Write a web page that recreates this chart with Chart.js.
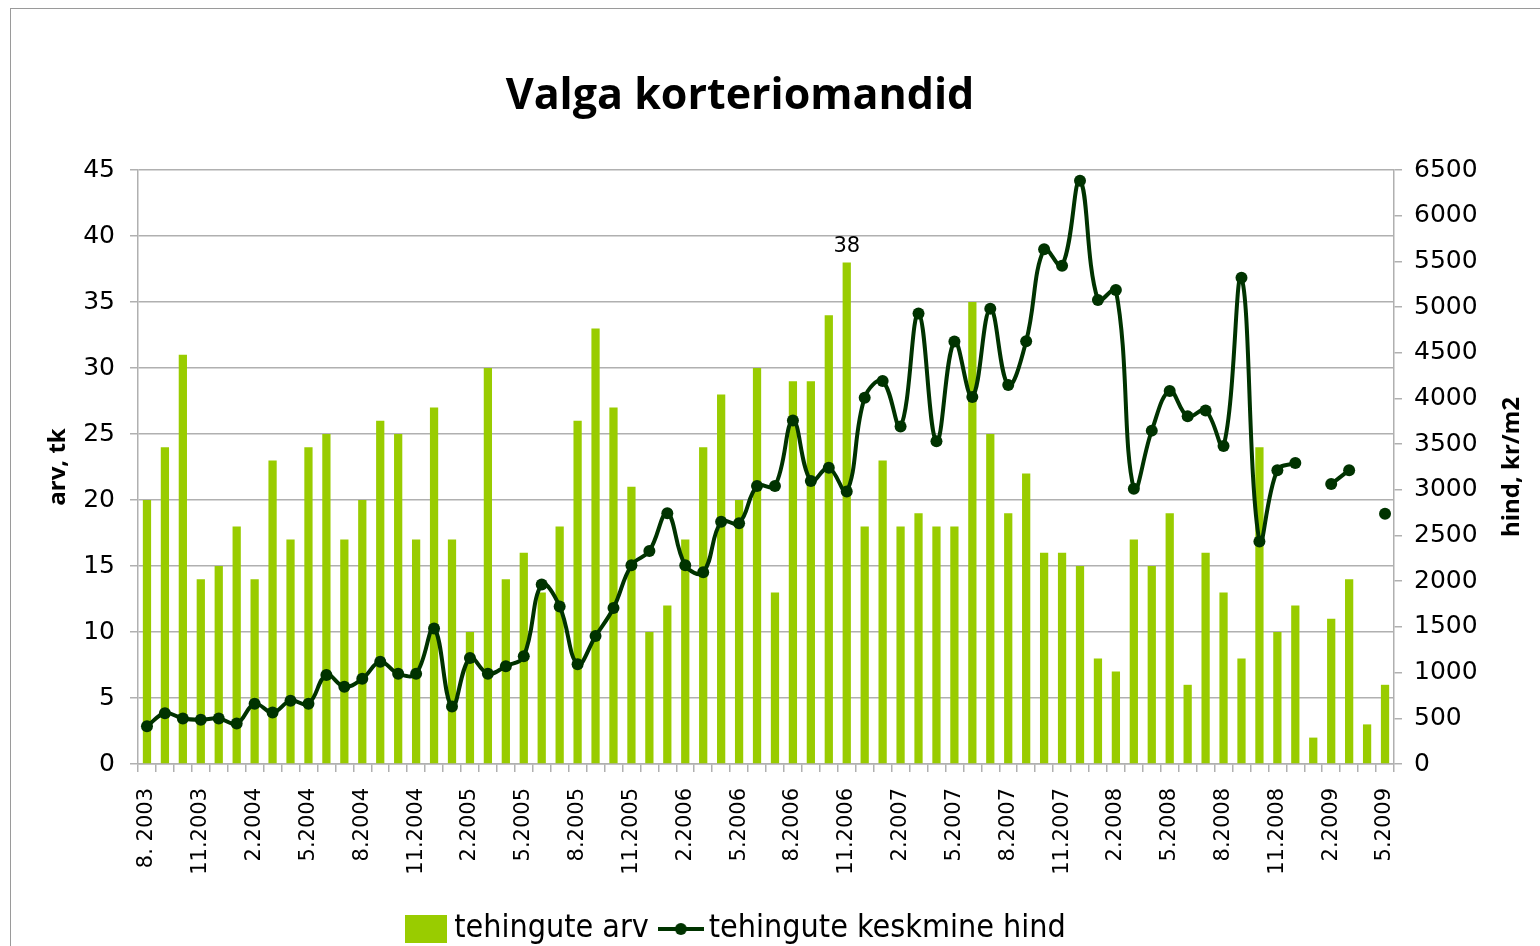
<!DOCTYPE html>
<html>
<head>
<meta charset="utf-8">
<script src="https://cdn.jsdelivr.net/npm/chart.js@4.4.1/dist/chart.umd.min.js"></script>
<style>
  html, body { margin: 0; padding: 0; background: #fff; overflow: hidden; }
  canvas { display: block; }
</style>
</head>
<body>
<canvas id="c" width="1540" height="946"></canvas>
<script>
// Monthly categories, 8.2003 – 5.2009
const months = [
  '8. 2003', '9.2003', '10.2003', '11.2003', '12.2003',
  '1.2004', '2.2004', '3.2004', '4.2004', '5.2004', '6.2004', '7.2004', '8.2004', '9.2004', '10.2004', '11.2004', '12.2004',
  '1.2005', '2.2005', '3.2005', '4.2005', '5.2005', '6.2005', '7.2005', '8.2005', '9.2005', '10.2005', '11.2005', '12.2005',
  '1.2006', '2.2006', '3.2006', '4.2006', '5.2006', '6.2006', '7.2006', '8.2006', '9.2006', '10.2006', '11.2006', '12.2006',
  '1.2007', '2.2007', '3.2007', '4.2007', '5.2007', '6.2007', '7.2007', '8.2007', '9.2007', '10.2007', '11.2007', '12.2007',
  '1.2008', '2.2008', '3.2008', '4.2008', '5.2008', '6.2008', '7.2008', '8.2008', '9.2008', '10.2008', '11.2008', '12.2008',
  '1.2009', '2.2009', '3.2009', '4.2009', '5.2009'
];

// Number of transactions per month (left axis)
const dealCounts = [
  20, 24, 31, 14, 15, 18, 14, 23, 17, 24,
  25, 17, 20, 26, 25, 17, 27, 17, 10, 30,
  14, 16, 13, 18, 26, 33, 27, 21, 10, 12,
  17, 24, 28, 20, 30, 13, 29, 29, 34, 38,
  18, 23, 18, 19, 18, 18, 35, 25, 19, 22,
  16, 16, 15, 8, 7, 17, 15, 19, 6, 16,
  13, 8, 24, 10, 12, 2, 11, 14, 3, 6
];

// Average price, kr/m2 (right axis); null = no data that month
const avgPrices = [
  412, 555, 498, 485, 498, 442, 659, 563, 693, 659,
  975, 845, 932, 1118, 988, 988, 1482, 628, 1161, 988,
  1070, 1179, 1963, 1724, 1092, 1400, 1707, 2175, 2331, 2743,
  2175, 2097, 2652, 2634, 3041, 3041, 3760, 3098, 3241, 2981,
  4008, 4190, 3692, 4931, 3531, 4623, 4017, 4983, 4147, 4627,
  5633, 5451, 6383, 5078, 5186, 3011, 3648, 4081, 3804, 3869,
  3479, 5321, 2435, 3215, 3293, null, 3063, 3215, null, 2739
];

const countRange = [0, 45, 5];     // min, max, step
const priceRange = [0, 6500, 500]; // min, max, step
const seriesNames = ['tehingute arv', 'tehingute keskmine hind'];
const axisTitles = ['arv, tk', 'hind, kr/m2'];
const chartTitle = 'Valga korteriomandid';
const labelledMonth = '11.2006';

const BAR_GREEN = '#99cc00';
const LINE_GREEN = '#003300';
const GRID = '#b0b0b0';
const TICK_FONT = 'DejaVu Sans';
const TITLE_FONT = 'Open Sans';

// Legend markers
function makeBoxMarker() {
  const cv = document.createElement('canvas');
  cv.width = 42; cv.height = 28;
  const g = cv.getContext('2d');
  g.fillStyle = BAR_GREEN;
  g.fillRect(0, 0, 42, 28);
  return cv;
}
function makeLineMarker() {
  const cv = document.createElement('canvas');
  cv.width = 46; cv.height = 28;
  const g = cv.getContext('2d');
  g.strokeStyle = LINE_GREEN;
  g.lineWidth = 4;
  g.beginPath(); g.moveTo(0, 14); g.lineTo(46, 14); g.stroke();
  g.fillStyle = LINE_GREEN;
  g.beginPath(); g.arc(23, 14, 6, 0, Math.PI * 2); g.fill();
  return cv;
}
const legendMarkers = [makeBoxMarker(), makeLineMarker()];

// Page frame around the chart
const framePlugin = {
  id: 'frame',
  beforeDraw(chart) {
    const ctx = chart.ctx;
    ctx.save();
    ctx.fillStyle = '#fff';
    ctx.fillRect(0, 0, chart.width, chart.height);
    ctx.strokeStyle = '#9a9a9a';
    ctx.lineWidth = 1;
    ctx.strokeRect(10.5, 8.5, chart.width + 20, chart.height + 20);
    ctx.restore();
  }
};

// Right axis title, reading bottom to top like the left one
const rightTitlePlugin = {
  id: 'rightTitle',
  afterDraw(chart) {
    const ctx = chart.ctx;
    const area = chart.chartArea;
    ctx.save();
    ctx.translate(1512, (area.top + area.bottom) / 2);
    ctx.rotate(-Math.PI / 2);
    ctx.font = 'bold 24px "' + TITLE_FONT + '"';
    ctx.fillStyle = '#000';
    ctx.textAlign = 'center';
    ctx.textBaseline = 'middle';
    ctx.fillText(axisTitles[1], 0, 0);
    ctx.restore();
  }
};

// Value label above the highlighted month's bar
const valueLabelPlugin = {
  id: 'valueLabel',
  afterDatasetsDraw(chart) {
    const i = months.indexOf(labelledMonth);
    const bar = chart.getDatasetMeta(0).data[i];
    if (!bar) return;
    const ctx = chart.ctx;
    ctx.save();
    ctx.font = '21px "' + TICK_FONT + '"';
    ctx.fillStyle = '#000';
    ctx.textAlign = 'center';
    ctx.textBaseline = 'middle';
    ctx.fillText(String(dealCounts[i]), bar.x, bar.y - 16);
    ctx.restore();
  }
};

new Chart(document.getElementById('c'), {
  data: {
    labels: months,
    datasets: [
      {
        type: 'bar',
        label: seriesNames[0],
        data: dealCounts,
        backgroundColor: BAR_GREEN,
        borderWidth: 0,
        yAxisID: 'y',
        categoryPercentage: 1,
        barPercentage: 0.46,
        order: 1
      },
      {
        type: 'line',
        label: seriesNames[1],
        data: avgPrices,
        borderColor: LINE_GREEN,
        backgroundColor: LINE_GREEN,
        borderWidth: 4,
        pointRadius: 6,
        pointBackgroundColor: LINE_GREEN,
        pointBorderColor: LINE_GREEN,
        pointBorderWidth: 0,
        tension: 0.4,
        spanGaps: false,
        yAxisID: 'y1',
        order: 0
      }
    ]
  },
  options: {
    responsive: false,
    animation: false,
    devicePixelRatio: 1,
    layout: { padding: { left: 0, right: 60, top: 0, bottom: -9 } },
    plugins: {
      tooltip: { enabled: false },
      title: {
        display: true,
        text: chartTitle,
        color: '#000',
        font: { family: TITLE_FONT, size: 43, weight: 'bold', lineHeight: 1.2 },
        padding: { top: 71, bottom: 47.4 }
      },
      legend: {
        display: true,
        position: 'bottom',
        labels: {
          color: '#000',
          font: { family: 'DejaVu Sans Condensed', size: 32 },
          usePointStyle: true,
          pointStyleWidth: 24,
          padding: 20,
          sort: (a, b) => a.datasetIndex - b.datasetIndex,
          generateLabels(chart) {
            const items = Chart.defaults.plugins.legend.labels.generateLabels(chart);
            items.forEach(it => { it.pointStyle = legendMarkers[it.datasetIndex]; });
            return items;
          }
        }
      }
    },
    scales: {
      x: {
        type: 'category',
        offset: true,
        grid: {
          display: true,
          drawOnChartArea: false,
          drawTicks: true,
          tickLength: 8,
          color: GRID,
          lineWidth: 1.5,
          offset: true
        },
        border: { display: true, color: GRID, width: 1.5 },
        ticks: {
          autoSkip: false,
          maxRotation: 90,
          minRotation: 90,
          padding: 16,
          color: '#000',
          font: { family: TICK_FONT, size: 21 },
          callback(value, index) { return index % 3 === 0 ? months[index] : ''; }
        },
        afterFit(scale) { scale.height = 129; }
      },
      y: {
        position: 'left',
        min: countRange[0],
        max: countRange[1],
        ticks: {
          stepSize: countRange[2],
          padding: 15,
          color: '#000',
          font: { family: TICK_FONT, size: 25 }
        },
        grid: { color: GRID, lineWidth: 1.5, tickLength: 8 },
        border: { display: true, color: GRID, width: 1.5 },
        title: {
          display: true,
          text: axisTitles[0],
          color: '#000',
          font: { family: TITLE_FONT, size: 24, weight: 'bold', lineHeight: 1.2 },
          padding: { top: 44, bottom: 0 }
        },
        afterFit(scale) { scale.width = 138; }
      },
      y1: {
        position: 'right',
        min: priceRange[0],
        max: priceRange[1],
        ticks: {
          stepSize: priceRange[2],
          padding: 12,
          color: '#000',
          font: { family: TICK_FONT, size: 25 },
          callback(value) { return String(value); }
        },
        grid: { drawOnChartArea: false, color: GRID, lineWidth: 1.5, tickLength: 8 },
        border: { display: true, color: GRID, width: 1.5 },
        afterFit(scale) { scale.width = 86; }
      }
    }
  },
  plugins: [framePlugin, rightTitlePlugin, valueLabelPlugin]
});
</script>
</body>
</html>
